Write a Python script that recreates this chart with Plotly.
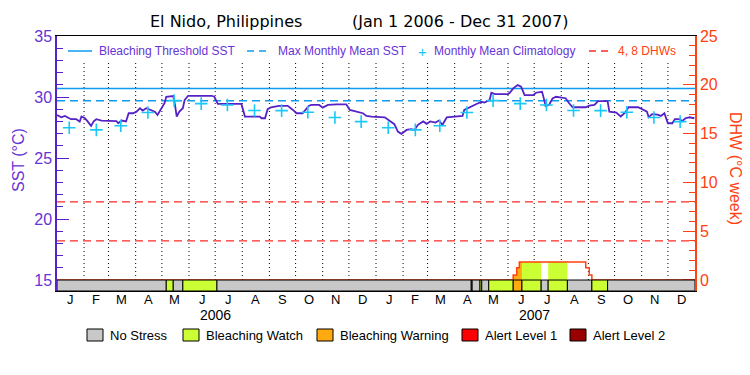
import plotly.graph_objects as go
import pandas as pd

# ---------------- data ----------------
title_site = "El Nido, Philippines"
title_period = "(Jan 1 2006 - Dec 31 2007)"

sst_dates = [
    "2006-01-01", "2006-01-06", "2006-01-10", "2006-01-13", "2006-01-17", "2006-01-23",
    "2006-01-27", "2006-01-29", "2006-02-02", "2006-02-05", "2006-02-09", "2006-02-12",
    "2006-02-15", "2006-02-21", "2006-03-01", "2006-03-10", "2006-03-12", "2006-03-16",
    "2006-03-21", "2006-03-24", "2006-03-29", "2006-04-02", "2006-04-06", "2006-04-09",
    "2006-04-13", "2006-04-19", "2006-04-23", "2006-04-26", "2006-04-30", "2006-05-04",
    "2006-05-06", "2006-05-14", "2006-05-16", "2006-05-18", "2006-05-21", "2006-05-25",
    "2006-05-27", "2006-05-31", "2006-06-27", "2006-06-30", "2006-07-04", "2006-07-31",
    "2006-08-04", "2006-08-21", "2006-08-23", "2006-08-27", "2006-08-30", "2006-09-03",
    "2006-09-12", "2006-09-22", "2006-09-28", "2006-10-02", "2006-10-09", "2006-10-16",
    "2006-10-19", "2006-10-28", "2006-11-01", "2006-11-07", "2006-11-17", "2006-11-28",
    "2006-12-02", "2006-12-11", "2006-12-17", "2006-12-21", "2006-12-27", "2007-01-11",
    "2007-01-17", "2007-01-22", "2007-01-26", "2007-01-30", "2007-02-05", "2007-02-10",
    "2007-02-14", "2007-02-18", "2007-02-24", "2007-02-28", "2007-03-04", "2007-03-10",
    "2007-03-14", "2007-03-18", "2007-03-23", "2007-03-31", "2007-04-10", "2007-04-12",
    "2007-04-16", "2007-04-20", "2007-04-26", "2007-05-02", "2007-05-05", "2007-05-11",
    "2007-05-13", "2007-05-17", "2007-06-01", "2007-06-03", "2007-06-07", "2007-06-12",
    "2007-06-16", "2007-06-20", "2007-06-30", "2007-07-03", "2007-07-10", "2007-07-12",
    "2007-07-14", "2007-07-18", "2007-07-22", "2007-07-26", "2007-07-31", "2007-08-06",
    "2007-08-10", "2007-08-14", "2007-08-29", "2007-09-02", "2007-09-08", "2007-09-12",
    "2007-09-23", "2007-09-25", "2007-10-03", "2007-10-08", "2007-10-13", "2007-10-17",
    "2007-10-28", "2007-11-01", "2007-11-07", "2007-11-09", "2007-11-13", "2007-11-19",
    "2007-11-23", "2007-11-27", "2007-12-01", "2007-12-06", "2007-12-09", "2007-12-15",
    "2007-12-17", "2007-12-21", "2007-12-26", "2007-12-30", "2007-12-31",
]
sst_values = [
    28.53, 28.34, 28.45, 28.34, 28.18, 28.18,
    27.98, 28.40, 28.26, 28.00, 27.63, 28.00,
    28.18, 28.07, 28.05, 28.03, 27.85, 28.07,
    28.00, 28.67, 28.67, 28.80, 29.08, 28.88,
    29.08, 28.88, 28.80, 28.53, 29.00, 29.49,
    30.02, 30.08, 29.35, 28.40, 28.80, 29.08,
    29.75, 30.10, 30.10, 30.02, 29.43, 29.43,
    28.40, 28.40, 28.26, 28.26, 29.00, 29.16,
    29.27, 29.27, 28.94, 28.67, 28.67, 29.27,
    29.35, 29.35, 29.13, 29.35, 29.40, 29.40,
    28.94, 28.80, 28.67, 28.45, 28.40, 28.34,
    28.00, 27.77, 27.17, 26.98, 27.30, 27.37,
    27.30, 27.72, 28.00, 27.80, 28.00, 27.90,
    28.07, 27.72, 28.34, 28.40, 28.45, 28.94,
    29.08, 29.27, 29.43, 29.61, 29.55, 29.75,
    30.35, 30.24, 30.24, 30.35, 30.71, 30.98,
    30.84, 30.16, 30.16, 30.35, 30.43, 29.89,
    29.27, 29.35, 29.89, 30.02, 29.97, 29.90,
    29.49, 29.16, 29.16, 29.29, 29.35, 29.67,
    29.67, 28.80, 28.72, 28.40, 28.72, 29.16,
    29.16, 29.00, 28.80, 28.34, 28.60, 28.55,
    28.45, 28.67, 27.85, 27.85, 28.18, 28.18,
    28.00, 28.26, 28.34, 28.26, 28.34,
]

clim_dates = [
    "2006-01-15", "2006-02-15", "2006-03-15", "2006-04-15", "2006-05-15", "2006-06-15",
    "2006-07-15", "2006-08-15", "2006-09-15", "2006-10-15", "2006-11-15", "2006-12-15",
    "2007-01-15", "2007-02-15", "2007-03-15", "2007-04-15", "2007-05-15", "2007-06-15",
    "2007-07-15", "2007-08-15", "2007-09-15", "2007-10-15", "2007-11-15", "2007-12-15",
]
clim_values = [
    27.48, 27.31, 27.64, 28.73, 29.70, 29.46, 29.35, 28.90, 28.88, 28.75, 28.32, 27.98,
    27.48, 27.31, 27.64, 28.73, 29.70, 29.46, 29.35, 28.90, 28.88, 28.75, 28.32, 27.98,
]

bleaching_threshold = 30.7
max_monthly_mean = 29.7
dhw_levels = [4, 8]

dhw_dates = ["2006-01-01", "2007-06-07", "2007-06-11", "2007-06-14", "2007-08-29",
             "2007-09-02", "2007-09-05", "2007-12-31"]
dhw_values = [0, 0.5, 1.25, 1.85, 1.25, 0.5, 0, 0]

status_starts = ["2006-01-01", "2006-05-06", "2006-05-14", "2006-05-25", "2006-07-03",
                 "2007-04-20", "2007-04-21", "2007-04-30", "2007-05-02", "2007-05-10",
                 "2007-06-07", "2007-06-17", "2007-07-09", "2007-07-17", "2007-08-08",
                 "2007-09-05", "2007-09-23"]
status_codes = [0, 1, 0, 1, 0, 0, 0, 1, 0, 1, 2, 1, 0, 1, 0, 1, 0]
status_end = "2008-01-01"
status_names = ["No Stress", "Bleaching Watch", "Bleaching Warning", "Alert Level 1", "Alert Level 2"]
status_colors = ["#c8c8c8", "#ccff33", "#ffaa11", "#ff0000", "#990000"]

month_letters = ["J", "F", "M", "A", "M", "J", "J", "A", "S", "O", "N", "D"]
month_centers = [
    "2006-01-16", "2006-02-15", "2006-03-16", "2006-04-16", "2006-05-16", "2006-06-16",
    "2006-07-16", "2006-08-16", "2006-09-16", "2006-10-16", "2006-11-16", "2006-12-16",
    "2007-01-16", "2007-02-15", "2007-03-16", "2007-04-16", "2007-05-16", "2007-06-16",
    "2007-07-16", "2007-08-16", "2007-09-16", "2007-10-16", "2007-11-16", "2007-12-16",
]
year_labels = ["2006", "2007"]
year_centers = ["2006-07-01", "2007-07-01"]

x_start, x_end = "2006-01-01", "2008-01-01"

# ---------------- styling ----------------
# page body has an 8px default margin: figure is offset by (8, 8)
OFF = 8
W, H = 750 - OFF, 375 - OFF
L, R, T, B = 57, 695, 36, 291          # plot-area edges in screen pixels
SST_RANGE = [14.1, 35]
DHW_RANGE = [-1.13, 25]
PURPLE = "#5522c8"
PURPLE_TXT = "#6633d6"
BLUE = "#0c9cf0"
CYAN = "#18c8f8"
ORANGE = "#ff4010"
RED = "#ff2a2a"
FONT = "Liberation Sans"
TFONT = "DejaVu Sans"


def px(x):
    return (x - L) / (R - L)


def py(y):
    return (B - y) / (B - T)


fig = go.Figure()

# DHW fills coloured by stress level
dd = pd.to_datetime(dhw_dates)
starts = pd.to_datetime(status_starts)
ends = list(starts[1:]) + [pd.Timestamp(status_end)]


def dhw_at(t):
    v = dhw_values[0]
    for d, val in zip(dd, dhw_values):
        if d <= t:
            v = val
    return v


for s, e, c in zip(starts, ends, status_codes):
    if c == 0:
        continue
    xs = [s]
    ys = [dhw_at(s)]
    for d, val in zip(dd, dhw_values):
        if s < d < e:
            xs.append(d)
            ys.append(val)
    xs.append(e)
    ys.append(ys[-1])
    fig.add_trace(go.Scatter(x=xs, y=ys, yaxis="y2", mode="lines", line_shape="hv",
                             line=dict(width=0, color=status_colors[c]), fill="tozeroy",
                             fillcolor=status_colors[c], hoverinfo="skip", showlegend=False))

# DHW line
fig.add_trace(go.Scatter(x=dhw_dates, y=dhw_values, yaxis="y2", mode="lines", line_shape="hv",
                         line=dict(color=ORANGE, width=1.5), showlegend=False))

# 4, 8 DHW lines
for lv in dhw_levels:
    fig.add_trace(go.Scatter(x=[x_start, x_end], y=[lv, lv], yaxis="y2", mode="lines",
                             line=dict(color=RED, width=1.2, dash="8px,5px"), showlegend=False))

# threshold lines
fig.add_trace(go.Scatter(x=[x_start, x_end], y=[bleaching_threshold] * 2, mode="lines",
                         line=dict(color=BLUE, width=1.5), showlegend=False))
fig.add_trace(go.Scatter(x=[x_start, x_end], y=[max_monthly_mean] * 2, mode="lines",
                         line=dict(color=BLUE, width=1.5, dash="8px,5px"), showlegend=False))

# SST line
fig.add_trace(go.Scatter(x=sst_dates, y=sst_values, mode="lines",
                         line=dict(color=PURPLE, width=1.8), showlegend=False))

# climatology
fig.add_trace(go.Scatter(x=clim_dates, y=clim_values, mode="markers",
                         marker=dict(symbol="cross-thin", size=9, line=dict(color=CYAN, width=1.6)),
                         showlegend=False))

shapes = []
# dotted month lines
for m in pd.date_range("2006-02-01", "2007-12-01", freq="MS"):
    shapes.append(dict(type="line", xref="x", yref="y", x0=m, x1=m, y0=15, y1=32.8,
                       line=dict(color="black", width=1, dash="1px,3px"), layer="below"))

# status bar
for s, e, c in zip(starts, ends, status_codes):
    shapes.append(dict(type="rect", xref="x", yref="y", x0=s, x1=e, y0=SST_RANGE[0], y1=15,
                       fillcolor=status_colors[c], line=dict(color="black", width=1), layer="above"))

annotations = []
# title
annotations.append(dict(text=title_site, xref="paper", yref="paper", x=px(148), y=py(22),
                        xanchor="left", yanchor="middle", showarrow=False,
                        font=dict(size=16, color="black", family=TFONT)))
annotations.append(dict(text=title_period, xref="paper", yref="paper", x=px(350), y=py(22),
                        xanchor="left", yanchor="middle", showarrow=False,
                        font=dict(size=16, color="black", family=TFONT)))

# top legend
leg_y = py(51)
shapes.append(dict(type="line", xref="paper", yref="paper", x0=px(68), x1=px(92), y0=leg_y, y1=leg_y,
                   line=dict(color=BLUE, width=1.5)))
annotations.append(dict(text="Bleaching Threshold SST", xref="paper", yref="paper", x=px(97), y=leg_y,
                        xanchor="left", yanchor="middle", showarrow=False,
                        font=dict(size=12, color=PURPLE_TXT, family=FONT)))
shapes.append(dict(type="line", xref="paper", yref="paper", x0=px(247), x1=px(266), y0=leg_y, y1=leg_y,
                   line=dict(color=BLUE, width=1.5, dash="7px,5px")))
annotations.append(dict(text="Max Monthly Mean SST", xref="paper", yref="paper", x=px(276), y=leg_y,
                        xanchor="left", yanchor="middle", showarrow=False,
                        font=dict(size=12, color=PURPLE_TXT, family=FONT)))
annotations.append(dict(text="+", xref="paper", yref="paper", x=px(422), y=leg_y,
                        xanchor="center", yanchor="middle", showarrow=False,
                        font=dict(size=15, color=CYAN, family=FONT)))
annotations.append(dict(text="Monthly Mean Climatology", xref="paper", yref="paper", x=px(432), y=leg_y,
                        xanchor="left", yanchor="middle", showarrow=False,
                        font=dict(size=12, color=PURPLE_TXT, family=FONT)))
shapes.append(dict(type="line", xref="paper", yref="paper", x0=px(589), x1=px(613), y0=leg_y, y1=leg_y,
                   line=dict(color=RED, width=1.5, dash="7px,5px")))
annotations.append(dict(text="4, 8 DHWs", xref="paper", yref="paper", x=px(616), y=leg_y,
                        xanchor="left", yanchor="middle", showarrow=False,
                        font=dict(size=12, color=ORANGE, family=FONT)))

# axis titles
annotations.append(dict(text="SST (°C)", xref="paper", yref="paper", x=px(18), y=py(160),
                        xanchor="center", yanchor="middle", textangle=-90, showarrow=False,
                        font=dict(size=16, color=PURPLE_TXT, family=FONT)))
annotations.append(dict(text="DHW (°C week)", xref="paper", yref="paper", x=px(735), y=py(168),
                        xanchor="center", yanchor="middle", textangle=90, showarrow=False,
                        font=dict(size=16, color=ORANGE, family=FONT)))

# month labels
for lab, cx in zip(month_letters * 2, month_centers):
    annotations.append(dict(text=lab, xref="x", yref="paper", x=cx, y=py(299),
                            xanchor="center", yanchor="middle", showarrow=False,
                            font=dict(size=13, color="black", family=FONT)))

# year labels
for lab, cx in zip(year_labels, year_centers):
    annotations.append(dict(text=lab, xref="x", yref="paper", x=cx, y=py(315),
                            xanchor="center", yanchor="middle", showarrow=False,
                            font=dict(size=14, color="black", family=FONT)))

# bottom status legend
box_x = [87, 183, 317, 462, 570]
for i, (name, col) in enumerate(zip(status_names, status_colors)):
    x0 = box_x[i]
    shapes.append(dict(type="rect", xref="paper", yref="paper", x0=px(x0), x1=px(x0 + 16),
                       y0=py(341), y1=py(329), fillcolor=col, line=dict(color="black", width=1)))
    annotations.append(dict(text=name, xref="paper", yref="paper", x=px(x0 + 21), y=py(335),
                            xanchor="left", yanchor="middle", showarrow=False,
                            font=dict(size=13, color="black", family=FONT)))

fig.update_layout(
    width=W, height=H,
    margin=dict(l=L - OFF, r=W - (R - OFF), t=T - OFF, b=H - (B - OFF), pad=0, autoexpand=False),
    plot_bgcolor="white", paper_bgcolor="white",
    showlegend=False,
    shapes=shapes, annotations=annotations,
    xaxis=dict(type="date", range=[x_start, x_end], showgrid=False, zeroline=False,
               showline=True, linecolor="black", linewidth=1, mirror=True,
               showticklabels=False, ticks="", automargin=False),
    yaxis=dict(range=SST_RANGE, showgrid=False, zeroline=False, showline=True,
               linecolor=PURPLE, linewidth=1.5, automargin=False,
               tickmode="array", tickvals=[15, 20, 25, 30, 35], ticks="inside", ticklen=12,
               tickcolor=PURPLE, tickwidth=1.2,
               minor=dict(tickmode="array", tickvals=list(range(15, 36)), ticks="inside",
                          ticklen=6, tickcolor=PURPLE, tickwidth=1.2),
               tickfont=dict(size=16, color=PURPLE_TXT, family=FONT)),
    yaxis2=dict(range=DHW_RANGE, overlaying="y", side="right", showgrid=False, zeroline=False,
                showline=True, linecolor=ORANGE, linewidth=1.5, automargin=False,
                tickmode="array", tickvals=[0, 5, 10, 15, 20, 25], ticks="inside", ticklen=12,
                tickcolor=ORANGE, tickwidth=1.2,
                minor=dict(tickmode="array", tickvals=list(range(0, 26)), ticks="inside",
                           ticklen=6, tickcolor=ORANGE, tickwidth=1.2),
                tickfont=dict(size=16, color=ORANGE, family=FONT)),
)

fig.write_html("out.html")
